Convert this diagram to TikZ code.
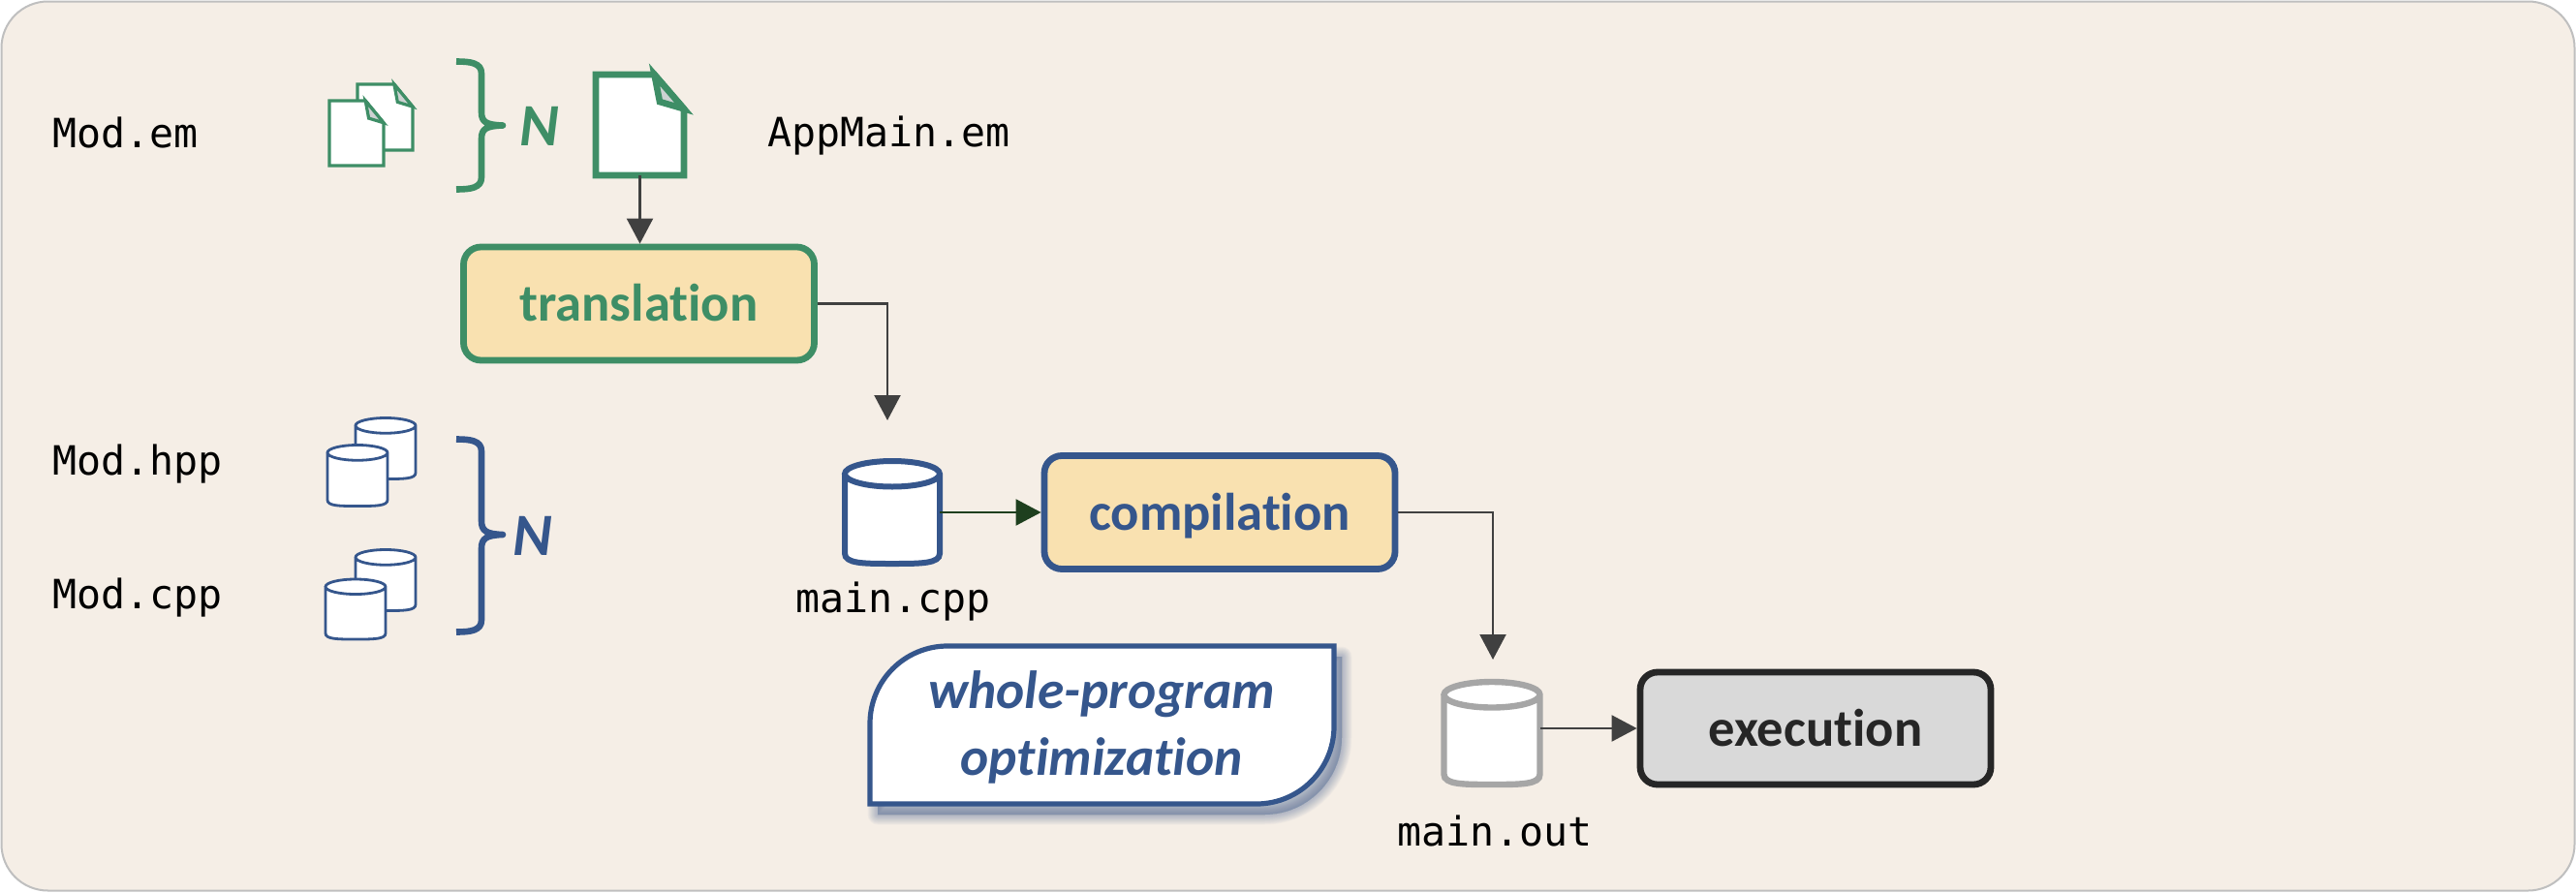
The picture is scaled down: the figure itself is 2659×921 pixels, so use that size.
\documentclass[tikz,border=0pt]{standalone}
\usepackage{fontspec}
\setmainfont[RawFeature={-liga;-clig;-dlig}]{Carlito}
\setmonofont{DejaVu Sans Mono}
\usetikzlibrary{arrows.meta}
\definecolor{bgc}{HTML}{F5EEE6}
\definecolor{bgl}{HTML}{BFBFBF}
\definecolor{grn}{HTML}{3E8E66}
\definecolor{blu}{HTML}{35568C}
\definecolor{sand}{HTML}{F9E1B0}
\definecolor{arr}{HTML}{404040}
\definecolor{darkgrn}{HTML}{1E3F1E}
\definecolor{cylgray}{HTML}{A6A6A6}
\definecolor{exe}{HTML}{262626}
\definecolor{exefill}{HTML}{D9D9D9}
\definecolor{foldc}{HTML}{CDD2D2}
\tikzset{
  x=0.5pt,y=-0.5pt,
  procbox/.style={draw=#1,text=#1,fill=sand,line width=3.4pt,rounded corners=9pt,inner sep=0pt,text height=24pt,text depth=6pt,font=\fontsize{27.3}{30}\selectfont\bfseries},
  flow/.style={draw=arr,line width=1.1pt,-{Triangle[length=13pt,width=13.5pt]},shorten >=0pt},
  mono/.style={font=\fontsize{20.8}{24}\selectfont\ttfamily,text=black,inner sep=0pt},
  nlabel/.style={font=\fontsize{31}{34}\selectfont\bfseries\itshape,text=#1,inner sep=0pt},
  bracepath/.style={draw=#1,line width=3.3pt,line join=round},
  hidden/.style={inner sep=0pt,outer sep=0pt},
}
% name, cx, cy, w, h, colour, line width (pt)
\newcommand{\mycyl}[7]{%
  \node[hidden,minimum width=#4*0.5pt,minimum height=#5*0.5pt] (#1) at (#2,#3) {};
  \pgfmathsetmacro{\xa}{#2-#4/2}\pgfmathsetmacro{\xb}{#2+#4/2}
  \pgfmathsetmacro{\ya}{#3-#5/2}\pgfmathsetmacro{\yb}{#3+#5/2}
  \pgfmathsetmacro{\rx}{#4/2}\pgfmathsetmacro{\ry}{#5*0.125}
  \pgfmathsetmacro{\yc}{\ya+\ry}\pgfmathsetmacro{\yd}{\yb-\ry*0.8}
  \draw[draw=#6,fill=white,line width=#7]
    (\xa,\yc) -- (\xa,\yd) .. controls (\xa,\yb) and (\xa+\rx*0.4,\yb) .. (#2,\yb)
    .. controls (\xb-\rx*0.4,\yb) and (\xb,\yb) .. (\xb,\yd) -- (\xb,\yc)
    arc[start angle=0,end angle=-180,x radius=\rx,y radius=\ry]
    arc[start angle=180,end angle=0,x radius=\rx,y radius=\ry];
}
% name, x0, y0, x1, y1, line width (pt)
\newcommand{\mydoc}[6]{%
  \pgfmathsetmacro{\cxx}{(#2+#4)/2}\pgfmathsetmacro{\cyy}{(#3+#5)/2}
  \pgfmathsetmacro{\ww}{#4-#2}\pgfmathsetmacro{\hh}{#5-#3}
  \node[hidden,minimum width=\ww*0.5pt,minimum height=\hh*0.5pt] (#1) at (\cxx,\cyy) {};
  \pgfmathsetmacro{\xf}{#2+\ww*0.665}\pgfmathsetmacro{\yf}{#3+\hh*0.34}
  \draw[draw=grn,fill=white,line width=#6,miter limit=6]
    (#2,#3) -- (\xf,#3) -- (#4,\yf) -- (#4,#5) -- (#2,#5) -- cycle;
  \draw[draw=grn,fill=foldc,line width=#6,miter limit=6]
    (\xf,#3) -- (\xf+\ww*0.06,\yf-\hh*0.07) -- (#4,\yf) -- cycle;
}
\begin{document}
\begin{tikzpicture}
\useasboundingbox (0,0) rectangle (2659,921);
\draw[fill=bgc,draw=bgl,line width=1pt,rounded corners=24pt] (1.5,1.5) rectangle (2657.5,919.5);

% labels
\node[mono,anchor=west] (modem) at (54,137) {Mod.em};
\node[mono,anchor=west] (appmain) at (792,140) {AppMain.em};
\node[mono,anchor=west] (modhpp) at (54,479) {Mod.hpp};
\node[mono,anchor=west] (modcpp) at (54,617) {Mod.cpp};
\node[mono] (lblcpp) at (922,621) {main.cpp};
\node[mono] (lblout) at (1543,858) {main.out};

% documents
\mydoc{docb}{369}{87}{426}{155}{1.6pt}
\mydoc{docf}{340}{104}{396}{171}{1.6pt}
\mydoc{docmain}{615}{77}{706}{181}{3.3pt}

% green brace
\draw[bracepath=grn] (471,63.5) .. controls (486,63.5) and (497,65) .. (497,76) -- (497,116)
  .. controls (497,126) and (502,129) .. (519,129.5)
  .. controls (502,130) and (497,133) .. (497,143) -- (497,183)
  .. controls (497,194) and (486,195.5) .. (471,195.5);
\node[nlabel=grn] (ngreen) at (557,130) {N};

% blue cylinders
\mycyl{cb1}{398}{463}{62}{63}{blu}{1.4pt}
\mycyl{cf1}{369}{491}{62}{63}{blu}{1.4pt}
\mycyl{cb2}{398}{599}{62}{63}{blu}{1.4pt}
\mycyl{cf2}{367}{629}{62}{62}{blu}{1.4pt}

% blue brace
\draw[bracepath=blu] (471,453.5) .. controls (486,453.5) and (497,455) .. (497,466) -- (497,538)
  .. controls (497,548) and (502,551.5) .. (519,552)
  .. controls (502,552.5) and (497,556) .. (497,566) -- (497,640)
  .. controls (497,651) and (486,652.5) .. (471,652.5);
\node[nlabel=blu] (nblue) at (550,553) {N};

% process boxes
\node[procbox=grn,minimum width=181pt,minimum height=58.5pt] (translation) at (659.5,313.5) {translation};
\node[procbox=blu,minimum width=181pt,minimum height=58.5pt] (compilation) at (1259,529) {compilation};
\node[procbox=exe,fill=exefill,minimum width=181pt,minimum height=58pt] (execution) at (1874,752) {execution};

% output cylinders
\mycyl{maincpp}{921}{529}{98}{106}{blu}{3pt}
\mycyl{mainout}{1540}{757}{99}{106}{cylgray}{3.2pt}
\coordinate (cppin) at (916,434);
\coordinate (outin) at (1541,681);

% whole-program note
\foreach \i in {1,...,14}{
  \pgfmathsetmacro{\wd}{(15-\i)*1.5}
  \draw[draw=blu,opacity=0.028,fill=blu,line width=\wd*0.5pt,line join=round,shift={(8,11)}]
    (898,830) -- (898,747) arc[start angle=180,end angle=270,radius=80] -- (1377,667) -- (1377,750)
    arc[start angle=0,end angle=90,radius=80] -- cycle;
}
\node[hidden,minimum width=239.5pt,minimum height=81.5pt] (note) at (1137.5,748.5) {};
\draw[draw=blu,fill=white,line width=2.6pt]
  (898,830) -- (898,747) arc[start angle=180,end angle=270,radius=80] -- (1377,667) -- (1377,750)
  arc[start angle=0,end angle=90,radius=80] -- cycle;
\node[hidden,align=center,text=blu,font=\fontsize{27.7}{34.2}\selectfont\bfseries\itshape] (notetext) at (1137,751) {whole-program\\optimization};

% connectors
\draw[flow] (docmain.south) -- (docmain.south |- translation.north);
\draw[flow] (translation.east) -| (cppin);
\draw[flow,draw=darkgrn] (maincpp.east) -- (compilation.west);
\draw[flow] (compilation.east) -| (outin);
\draw[flow] (mainout.east |- execution.west) -- (execution.west);
\end{tikzpicture}
\end{document}
